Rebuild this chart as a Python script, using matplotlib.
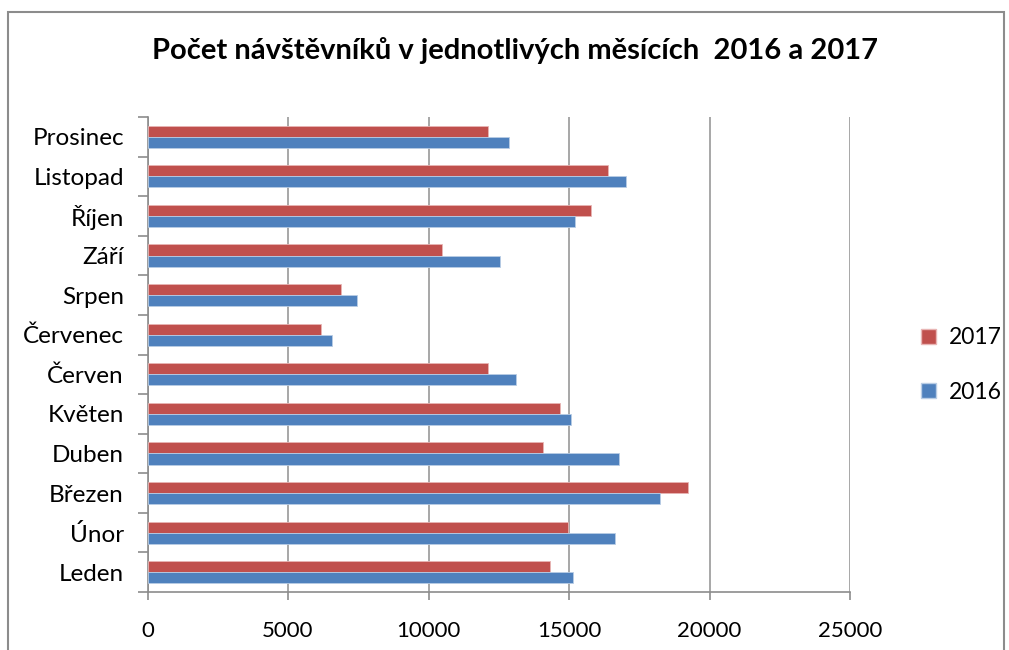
import matplotlib
matplotlib.use("Agg")
import matplotlib.pyplot as plt
from matplotlib.patches import Rectangle, Patch
import numpy as np

months = ["Leden", "Únor", "Březen", "Duben", "Květen", "Červen",
          "Červenec", "Srpen", "Září", "Říjen", "Listopad", "Prosinec"]
v2016 = [15130, 16650, 18230, 16780, 15060, 13120, 6570, 7450, 12530, 15210, 17030, 12880]
v2017 = [14320, 14950, 19220, 14090, 14670, 12120, 6170, 6890, 10490, 15770, 16400, 12130]
x_ticks = [0, 5000, 10000, 15000, 20000, 25000]
title = "Počet návštěvníků v jednotlivých měsících  2016 a 2017"

c2017 = "#C0504D"
c2016 = "#4F81BD"
font = ["Lato", "DejaVu Sans"]
plt.rcParams["font.family"] = font

fig = plt.figure(figsize=(10.09, 6.5), dpi=100)
W, H = 1009, 650
ax = fig.add_axes([147.5 / W, 1 - 592 / H, (850 - 147.5) / W, (592 - 117) / H])

y = np.arange(len(months))
h = 0.28
ax.barh(y + h / 2, v2017, height=h, color=c2017, edgecolor="#E8B5B4", linewidth=0.6, zorder=3, label="2017")
ax.barh(y - h / 2, v2016, height=h, color=c2016, edgecolor="#B9CDE5", linewidth=0.6, zorder=3, label="2016")

ax.set_xlim(0, 25000)
ax.set_ylim(-0.5, len(months) - 0.5)
ax.set_xticks(x_ticks)
ax.set_xticklabels([str(t) for t in x_ticks])
ax.set_yticks(y)
ax.set_yticklabels(months)
ax.set_yticks(np.arange(-0.5, len(months)), minor=True)
ax.tick_params(axis="y", which="major", length=0, pad=17, labelsize=17.5, labelcolor="#000000")
ax.tick_params(axis="y", which="minor", length=7, width=1.2, color="#8C8C8C", direction="out")
ax.tick_params(axis="x", which="major", length=6, width=1.2, color="#8C8C8C", direction="out",
               pad=15, labelsize=16)
ax.grid(axis="x", color="#A0A0A0", linewidth=1.3, zorder=0)
for s in ["top", "right"]:
    ax.spines[s].set_visible(False)
for s in ["left", "bottom"]:
    ax.spines[s].set_color("#8C8C8C")
    ax.spines[s].set_linewidth(1.2)

fig.text(515 / W, 1 - 51 / H, title, ha="center", va="center", fontsize=21, fontweight="bold")

handles = [Patch(facecolor=c2017, edgecolor="#E8B5B4"), Patch(facecolor=c2016, edgecolor="#B9CDE5")]
fig.legend(handles, ["2017", "2016"], loc="center left", bbox_to_anchor=(900 / W, 1 - 365 / H),
           frameon=False, fontsize=16.5, handlelength=0.65, handleheight=0.65, labelspacing=1.45,
           handletextpad=0.6)

fig.patches.append(Rectangle((8 / W, -0.01), (1004 - 8) / W, (1 - 12 / H) + 0.01,
                             transform=fig.transFigure, fill=False, edgecolor="#8C8C8C",
                             linewidth=1.5))

fig.savefig("out.png", dpi=100)
